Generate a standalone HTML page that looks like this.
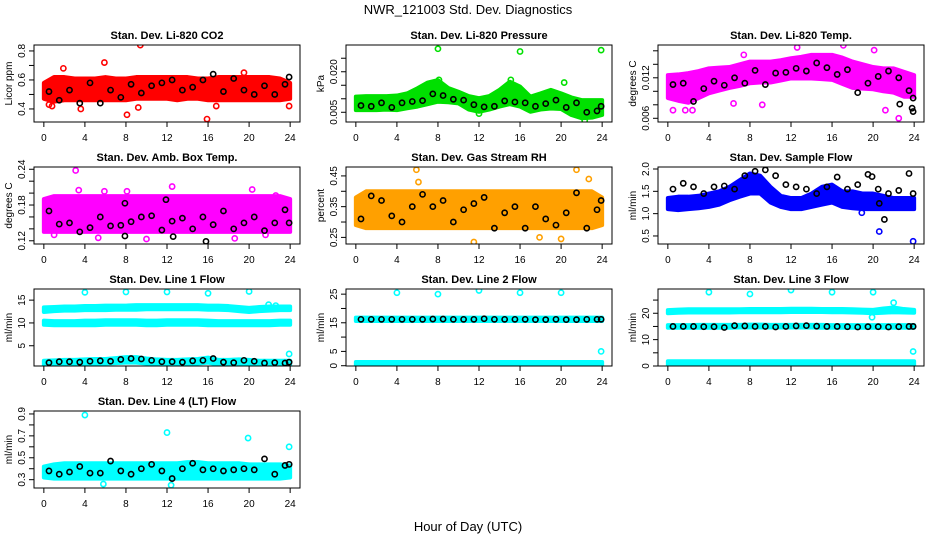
<!DOCTYPE html>
<html><head><meta charset="utf-8"><style>
body{margin:0;background:#fff}
svg text{font-family:"Liberation Sans",Arial,sans-serif}
</style></head><body>
<svg id="chart" width="936" height="540" viewBox="0 0 936 540" xmlns="http://www.w3.org/2000/svg">
<rect width="936" height="540" fill="#fff"/>
<text x="468" y="14" text-anchor="middle" font-size="13">NWR_121003  Std. Dev. Diagnostics</text>
<text x="468" y="531" text-anchor="middle" font-size="13">Hour of Day (UTC)</text>
</svg>
<script>
const hours = [0,1,2,3,4,5,6,7,8,9,10,11,12,13,14,15,16,17,18,19,20,21,22,23,24];
const blackHours = [0.5,1.5,2.5,3.5,4.5,5.5,6.5,7.5,8.5,9.5,10.5,11.5,12.5,13.5,14.5,15.5,16.5,17.5,18.5,19.5,20.5,21.5,22.5,23.5,23.9];
const xTicks = [0,4,8,12,16,20,24];

// Panel 1 CO2
const co2Lo = [0.47,0.45,0.46,0.46,0.46,0.46,0.46,0.46,0.46,0.47,0.47,0.47,0.47,0.46,0.47,0.47,0.46,0.46,0.46,0.46,0.46,0.46,0.46,0.46,0.47];
const co2Hi = [0.58,0.62,0.62,0.61,0.61,0.61,0.62,0.61,0.61,0.62,0.62,0.62,0.62,0.62,0.62,0.61,0.61,0.62,0.62,0.62,0.62,0.62,0.62,0.61,0.58];
const co2Black = [0.52,0.46,0.53,0.44,0.58,0.44,0.53,0.48,0.57,0.51,0.56,0.58,0.60,0.53,0.55,0.60,0.64,0.52,0.61,0.53,0.50,0.56,0.50,0.57,0.62];
const co2OutX = [0.5,0.8,1.9,3.6,5.9,8.1,9.2,9.4,15.9,16.8,19.5,23.9];
const co2OutY = [0.43,0.42,0.68,0.40,0.72,0.36,0.41,0.84,0.33,0.42,0.65,0.42];
// Panel 2 Pressure
const presLo = [0.0058,0.0058,0.0058,0.006,0.0058,0.0065,0.0071,0.008,0.0089,0.0087,0.0083,0.006,0.0052,0.006,0.0071,0.008,0.0071,0.0052,0.006,0.0064,0.0062,0.004,0.0028,0.003,0.004];
const presHi = [0.0108,0.011,0.011,0.011,0.0112,0.012,0.0139,0.016,0.0169,0.014,0.0126,0.011,0.0102,0.011,0.0133,0.0163,0.0145,0.0108,0.012,0.0133,0.012,0.0105,0.0095,0.0095,0.0095];
const presBlack = [0.0075,0.0072,0.0085,0.0068,0.0085,0.009,0.0093,0.0118,0.0112,0.0098,0.0095,0.0078,0.007,0.0072,0.0092,0.0088,0.0085,0.0072,0.0082,0.0095,0.0068,0.0085,0.005,0.0055,0.0072];
const presOutX = [8,16,23.9,8.1,15.1,20.3,22.3,12.0];
const presOutY = [0.0285,0.0275,0.028,0.017,0.017,0.016,0.002,0.0045];
// Panel 3 Li-820 Temp
const tempLo = [0.0090,0.0086,0.0083,0.0090,0.0097,0.0101,0.0105,0.0108,0.0112,0.0113,0.0113,0.0116,0.0119,0.0119,0.0119,0.0118,0.0117,0.0111,0.0105,0.0104,0.0103,0.0100,0.0098,0.0092,0.0092];
const tempHi = [0.0124,0.0125,0.0127,0.0130,0.0134,0.0135,0.0136,0.0140,0.0144,0.0144,0.0144,0.0146,0.0149,0.0151,0.0154,0.0154,0.0154,0.0150,0.0144,0.0140,0.0136,0.0134,0.0134,0.0129,0.0124];
const tempBlack = [0.0110,0.0112,0.0085,0.0104,0.0115,0.0109,0.0120,0.0112,0.0131,0.0110,0.0127,0.0128,0.0134,0.0130,0.0142,0.0135,0.0125,0.0132,0.0098,0.0112,0.0122,0.0130,0.0120,0.0101,0.0090];
const tempOutX = [0.5,1.7,2.4,6.4,9.2,21.2,22.5,17.1,12.6,7.4,20.1];
const tempOutY = [0.0072,0.0072,0.0072,0.0082,0.0080,0.0072,0.0060,0.0168,0.0165,0.0154,0.0161];
const tempBlackExX = [23.8,23.9,22.6];
const tempBlackExY = [0.0075,0.0070,0.0081];
// Panel 4 Amb box temp
const boxLo = [0.135,0.135,0.135,0.135,0.135,0.135,0.135,0.135,0.135,0.135,0.135,0.135,0.135,0.135,0.135,0.135,0.135,0.135,0.135,0.135,0.135,0.135,0.135,0.135,0.135];
const boxHi = [0.19,0.195,0.195,0.195,0.195,0.195,0.195,0.195,0.195,0.195,0.195,0.195,0.195,0.195,0.195,0.195,0.195,0.195,0.195,0.195,0.195,0.195,0.195,0.195,0.19];
const boxBlack = [0.170,0.148,0.150,0.135,0.142,0.160,0.145,0.146,0.152,0.160,0.162,0.138,0.153,0.158,0.140,0.160,0.147,0.170,0.140,0.150,0.160,0.137,0.150,0.172,0.150];
const boxOutX = [3.1,3.4,5.9,8.1,12.5,20.3,22.6,1.0,5.3,10.0,18.6,21.6];
const boxOutY = [0.238,0.205,0.203,0.203,0.211,0.206,0.196,0.130,0.125,0.123,0.124,0.130];
const boxBlackExX = [7.9,12.6,15.8,11.9,7.9];
const boxBlackExY = [0.128,0.127,0.119,0.189,0.183];
// Panel 5 RH
const rhLo = [0.29,0.28,0.28,0.28,0.28,0.28,0.28,0.28,0.28,0.28,0.28,0.28,0.28,0.28,0.28,0.28,0.28,0.28,0.28,0.28,0.28,0.28,0.28,0.28,0.29];
const rhHi = [0.38,0.40,0.40,0.40,0.40,0.40,0.40,0.40,0.40,0.40,0.40,0.40,0.40,0.40,0.40,0.40,0.40,0.40,0.40,0.40,0.40,0.40,0.40,0.40,0.38];
const rhBlack = [0.31,0.385,0.37,0.32,0.30,0.35,0.39,0.35,0.37,0.30,0.34,0.36,0.38,0.28,0.33,0.35,0.28,0.35,0.31,0.29,0.33,0.395,0.28,0.34,0.37];
const rhOutX = [5.9,6.1,21.5,22.7,11.5,20.0,17.9];
const rhOutY = [0.47,0.43,0.47,0.44,0.235,0.245,0.25];
// Panel 6 Sample flow
const sfLo = [1.1,1.08,1.1,1.12,1.15,1.2,1.3,1.38,1.45,1.45,1.25,1.15,1.1,1.1,1.15,1.2,1.25,1.15,1.12,1.1,1.1,1.1,1.1,1.1,1.1];
const sfHi = [1.35,1.38,1.38,1.4,1.45,1.5,1.6,1.75,1.9,1.85,1.6,1.4,1.35,1.35,1.45,1.6,1.65,1.5,1.5,1.45,1.45,1.4,1.35,1.35,1.35];
const sfBlack = [1.55,1.68,1.6,1.45,1.6,1.62,1.55,1.85,1.95,1.98,1.85,1.65,1.6,1.55,1.45,1.6,1.82,1.55,1.65,1.88,1.55,1.45,1.52,1.9,1.45];
const sfOutX = [20.6,23.9,18.9];
const sfOutY = [0.6,0.38,1.02];
const sfBlackExX = [20.6,21.1,19.9];
const sfBlackExY = [1.23,0.87,1.83];
// Panel 7 Line 1
const l1HighLo = [12.4,12.6,12.7,12.7,12.8,12.8,12.8,12.9,12.9,12.9,13.0,13.0,13.0,13.0,13.0,13.0,12.9,12.9,12.8,12.6,12.4,12.6,12.7,12.8,12.8];
const l1HighHi = [13.4,13.5,13.6,13.6,13.7,13.7,13.8,13.8,13.8,13.9,13.9,13.9,13.9,13.9,13.9,13.9,13.8,13.8,13.7,13.5,13.3,13.5,13.6,13.6,13.6];
const l1MidLo = [9.6,9.5,9.5,9.5,9.5,9.5,9.6,9.6,9.6,9.6,9.5,9.5,9.6,9.6,9.6,9.6,9.5,9.5,9.5,9.5,9.5,9.5,9.5,9.6,9.6];
const l1MidHi = [10.5,10.4,10.4,10.4,10.5,10.5,10.6,10.6,10.6,10.6,10.5,10.5,10.6,10.6,10.6,10.6,10.5,10.4,10.4,10.4,10.4,10.4,10.4,10.5,10.5];
const l1LowLo = [0.8,0.9,0.9,0.9,1.0,1.1,1.1,1.2,1.3,1.3,1.1,1.0,0.9,0.9,1.0,1.1,1.3,0.9,0.9,1.0,0.9,0.8,0.8,0.8,0.8];
const l1LowHi = [1.7,1.8,1.9,1.9,2.0,2.1,2.1,2.3,2.5,2.5,2.2,2.0,1.9,1.9,2.0,2.1,2.4,1.9,1.9,2.0,1.9,1.7,1.7,1.7,1.7];
const l1Black = [1.3,1.5,1.5,1.4,1.6,1.7,1.6,2.0,2.2,2.1,1.8,1.5,1.5,1.4,1.7,1.8,2.2,1.4,1.3,1.8,1.6,1.2,1.3,1.2,1.4];
const l1OutX = [4,8,12,16,20,23.9,21.9,22.6];
const l1OutY = [16.7,16.8,16.8,16.5,16.9,3.2,14.0,13.8];
// Panel 8 Line 2
const l2HighLo = [15.6,15.6,15.6,15.6,15.6,15.6,15.6,15.6,15.6,15.6,15.6,15.6,15.6,15.6,15.6,15.6,15.6,15.6,15.6,15.6,15.6,15.6,15.6,15.6,15.6];
const l2HighHi = [16.8,16.8,16.8,16.8,16.8,16.8,16.8,16.8,16.8,16.8,16.8,16.8,16.8,16.8,16.8,16.8,16.8,16.8,16.8,16.8,16.8,16.8,16.8,16.8,16.8];
const l2LowLo = [0.2,0.2,0.2,0.2,0.2,0.2,0.2,0.2,0.2,0.2,0.2,0.2,0.2,0.2,0.2,0.2,0.2,0.2,0.2,0.2,0.2,0.2,0.2,0.2,0.2];
const l2LowHi = [1.3,1.3,1.3,1.3,1.3,1.3,1.3,1.3,1.3,1.3,1.3,1.3,1.3,1.3,1.3,1.3,1.3,1.3,1.3,1.3,1.3,1.3,1.3,1.3,1.3];
const l2Black = [16.2,16.2,16.2,16.2,16.2,16.2,16.2,16.3,16.3,16.2,16.2,16.2,16.4,16.2,16.2,16.2,16.2,16.1,16.1,16.2,16.1,16.1,16.2,16.2,16.2];
const l2OutX = [4,8,12,16,20,23.9];
const l2OutY = [25.5,25,26.3,25.5,25.5,5];
// Panel 9 Line 3
const l3HighLo = [20.0,20.2,20.3,20.3,20.3,20.3,20.3,20.4,20.4,20.4,20.4,20.4,20.5,20.5,20.5,20.5,20.4,20.4,20.3,20.2,20.0,20.2,20.4,20.3,20.2];
const l3HighHi = [21.2,21.4,21.5,21.5,21.5,21.5,21.5,21.5,21.6,21.6,21.6,21.6,21.7,21.7,21.7,21.6,21.6,21.6,21.5,21.4,21.3,21.8,22.2,21.6,21.3];
const l3MidLo = [14.5,14.5,14.5,14.5,14.5,14.5,14.5,14.6,14.6,14.6,14.6,14.6,14.6,14.6,14.6,14.5,14.5,14.5,14.5,14.5,14.5,14.5,14.5,14.5,14.5];
const l3MidHi = [15.5,15.5,15.5,15.6,15.6,15.6,15.6,15.6,15.7,15.7,15.6,15.6,15.6,15.6,15.6,15.6,15.5,15.5,15.5,15.5,15.5,15.5,15.5,15.5,15.5];
const l3LowLo = [0.4,0.4,0.4,0.4,0.4,0.4,0.4,0.4,0.4,0.4,0.4,0.4,0.4,0.4,0.4,0.4,0.4,0.4,0.4,0.4,0.4,0.4,0.4,0.4,0.4];
const l3LowHi = [1.8,1.8,1.8,1.8,1.8,1.8,1.8,1.8,1.8,1.8,1.8,1.8,1.8,1.8,1.8,1.8,1.8,1.8,1.8,1.8,1.8,1.8,1.8,1.8,1.8];
const l3Black = [15.0,15.0,15.0,14.9,14.9,14.6,15.3,15.2,15.0,15.0,14.8,15.0,15.2,15.3,15.1,15.0,15.0,14.9,14.8,14.9,14.9,14.8,14.9,15.0,15.0];
const l3OutX = [4,8,12,16,20,23.9,19.9,22.0];
const l3OutY = [28,27.3,28.8,28,28,5.5,18.5,24];
// Panel 10 Line 4
const l4Lo = [0.32,0.31,0.31,0.31,0.31,0.31,0.31,0.31,0.31,0.31,0.31,0.31,0.31,0.31,0.31,0.31,0.31,0.31,0.31,0.31,0.31,0.31,0.31,0.31,0.32];
const l4Hi = [0.42,0.44,0.45,0.45,0.45,0.45,0.45,0.45,0.45,0.45,0.45,0.45,0.45,0.45,0.46,0.46,0.45,0.45,0.45,0.45,0.44,0.44,0.44,0.44,0.43];
const l4Black = [0.38,0.35,0.37,0.42,0.36,0.36,0.47,0.38,0.35,0.40,0.44,0.38,0.31,0.40,0.45,0.39,0.40,0.38,0.39,0.40,0.39,0.49,0.35,0.43,0.44];
const l4OutX = [4,12,19.9,23.9,5.8,12.4];
const l4OutY = [0.89,0.73,0.68,0.60,0.26,0.25];

const panels = [
 {name:'co2',title:'Stan. Dev. Li-820 CO2',ylab:'Licor ppm',col:0,row:0,ymin:0.31,ymax:0.841,ticks:[0.4,0.5,0.6,0.7,0.8],labels:['0.4','','0.6','','0.8'],color:'#ff0000',bands:[[co2Lo,co2Hi]],black:co2Black,outX:co2OutX,outY:co2OutY},
 {name:'pressure',title:'Stan. Dev. Li-820 Pressure',ylab:'kPa',col:1,row:0,ymin:0.0014,ymax:0.0299,ticks:[0.005,0.010,0.015,0.020,0.025],labels:['0.005','','','0.020',''],color:'#00e000',bands:[[presLo,presHi]],black:presBlack,outX:presOutX,outY:presOutY},
 {name:'li820-temp',title:'Stan. Dev. Li-820 Temp.',ylab:'degrees C',col:2,row:0,ymin:0.00545,ymax:0.01686,ticks:[0.006,0.008,0.010,0.012,0.014,0.016],labels:['0.006','','','0.012','',''],color:'#ff00ff',bands:[[tempLo,tempHi]],black:tempBlack,outX:tempOutX,outY:tempOutY,bx:tempBlackExX,by:tempBlackExY},
 {name:'box-temp',title:'Stan. Dev. Amb. Box Temp.',ylab:'degrees C',col:0,row:1,ymin:0.1146,ymax:0.2438,ticks:[0.12,0.14,0.16,0.18,0.20,0.22,0.24],labels:['0.12','','','0.18','','','0.24'],color:'#ff00ff',bands:[[boxLo,boxHi]],black:boxBlack,outX:boxOutX,outY:boxOutY,bx:boxBlackExX,by:boxBlackExY},
 {name:'rh',title:'Stan. Dev. Gas Stream RH',ylab:'percent',col:1,row:1,ymin:0.2285,ymax:0.479,ticks:[0.25,0.30,0.35,0.40,0.45],labels:['0.25','','0.35','','0.45'],color:'#ffa000',bands:[[rhLo,rhHi]],black:rhBlack,outX:rhOutX,outY:rhOutY},
 {name:'sample-flow',title:'Stan. Dev. Sample Flow',ylab:'ml/min',col:2,row:1,ymin:0.32,ymax:2.045,ticks:[0.5,1.0,1.5,2.0],labels:['0.5','1.0','1.5','2.0'],color:'#0000ff',bands:[[sfLo,sfHi]],black:sfBlack,outX:sfOutX,outY:sfOutY,bx:sfBlackExX,by:sfBlackExY},
 {name:'line1',title:'Stan. Dev. Line 1 Flow',ylab:'ml/min',col:0,row:2,ymin:0.56,ymax:17.44,ticks:[5,10,15],labels:['5','10','15'],color:'#00ffff',bands:[[l1HighLo,l1HighHi],[l1MidLo,l1MidHi],[l1LowLo,l1LowHi]],black:l1Black,outX:l1OutX,outY:l1OutY},
 {name:'line2',title:'Stan. Dev. Line 2 Flow',ylab:'ml/min',col:1,row:2,ymin:-0.1,ymax:26.8,ticks:[0,5,10,15,20,25],labels:['0','5','','15','','25'],color:'#00ffff',bands:[[l2HighLo,l2HighHi],[l2LowLo,l2LowHi]],black:l2Black,outX:l2OutX,outY:l2OutY},
 {name:'line3',title:'Stan. Dev. Line 3 Flow',ylab:'ml/min',col:2,row:2,ymin:0,ymax:29.2,ticks:[0,5,10,15,20,25],labels:['0','','10','','20',''],color:'#00ffff',bands:[[l3HighLo,l3HighHi],[l3MidLo,l3MidHi],[l3LowLo,l3LowHi]],black:l3Black,outX:l3OutX,outY:l3OutY},
 {name:'line4',title:'Stan. Dev. Line 4 (LT) Flow',ylab:'ml/min',col:0,row:3,ymin:0.224,ymax:0.927,ticks:[0.3,0.4,0.5,0.6,0.7,0.8,0.9],labels:['0.3','','0.5','','0.7','','0.9'],color:'#00ffff',bands:[[l4Lo,l4Hi]],black:l4Black,outX:l4OutX,outY:l4OutY}
];

const NS='http://www.w3.org/2000/svg';
const svg=document.getElementById('chart');
function mk(tag,attrs,parent){const e=document.createElementNS(NS,tag);for(const k in attrs)e.setAttribute(k,attrs[k]);parent.appendChild(e);return e;}

panels.forEach(p=>{
  const x0=312*p.col, L=x0+34, R=x0+300, T=45+122*p.row, B=122+122*p.row;
  const g=mk('g',{},svg);
  
  
  const xs=h=>L+(R-L)*(h+0.96)/25.92;
  const ys=v=>B-(B-T)*(v-p.ymin)/(p.ymax-p.ymin);
  const clipId='clip-'+p.name;
  const cp=mk('clipPath',{id:clipId},g); mk('rect',{x:L,y:T,width:R-L,height:B-T},cp);
  const pg=mk('g',{'clip-path':'url(#'+clipId+')'},g);
  p.bands.forEach((b,bi)=>{
    let pts=hours.map((h,i)=>xs(h)+','+ys(b[1][i]));
    pts=pts.concat(hours.slice().reverse().map((h,j)=>{const i=hours.length-1-j;return xs(h)+','+ys(b[0][i]);}));
    const poly=mk('polygon',{points:pts.join(' '),fill:p.color,stroke:p.color,'stroke-width':4,'stroke-linejoin':'round'},pg);
    
    
  });
  p.outX.forEach((x,i)=>{
    const c=mk('circle',{cx:xs(x),cy:ys(p.outY[i]),r:2.6,fill:'none',stroke:p.color,'stroke-width':1.6},pg);
    
    
  });
  p.black.forEach((v,i)=>{
    const c=mk('circle',{cx:xs(blackHours[i]),cy:ys(v),r:2.6,fill:'none',stroke:'#000','stroke-width':1.6},pg);
    
    
  });
  if(p.bx) p.bx.forEach((x,i)=>{
    const c=mk('circle',{cx:xs(x),cy:ys(p.by[i]),r:2.6,fill:'none',stroke:'#000','stroke-width':1.6},pg);
    
    
  });
  const box=mk('rect',{x:L,y:T,width:R-L,height:B-T,fill:'none',stroke:'#000','stroke-width':1},g);
  
  
  const t=mk('text',{x:(L+R)/2,y:T-6,'text-anchor':'middle','font-size':11,'font-weight':'bold'},g);
  t.textContent=p.title;
  
  
  const yl=mk('text',{x:0,y:0,'text-anchor':'middle','font-size':10,transform:'translate('+(x0+12)+','+((T+B)/2)+') rotate(-90)'},g);
  yl.textContent=p.ylab;
  
  
  // x axis
  mk('line',{x1:xs(0),x2:xs(24),y1:B,y2:B,stroke:'#000'},g);
  xTicks.forEach(h=>{
    mk('line',{x1:xs(h),x2:xs(h),y1:B,y2:B+5,stroke:'#000'},g);
    const tl=mk('text',{x:xs(h),y:B+19,'text-anchor':'middle','font-size':10},g);
    tl.textContent=String(h);
    
    
  });
  // y axis
  const yt=p.ticks.filter(v=>v>=p.ymin&&v<=p.ymax);
  mk('line',{x1:L,x2:L,y1:ys(yt[0]),y2:ys(yt[yt.length-1]),stroke:'#000'},g);
  p.ticks.forEach((v,i)=>{
    if(v<p.ymin||v>p.ymax)return;
    mk('line',{x1:L-5,x2:L,y1:ys(v),y2:ys(v),stroke:'#000'},g);
    if(p.labels[i]){
      const tl=mk('text',{x:0,y:0,'text-anchor':'middle','font-size':10,transform:'translate('+(L-9)+','+ys(v)+') rotate(-90)'},g);
      tl.textContent=p.labels[i];
      
      
    }
  });
});
</script>
</body></html>
